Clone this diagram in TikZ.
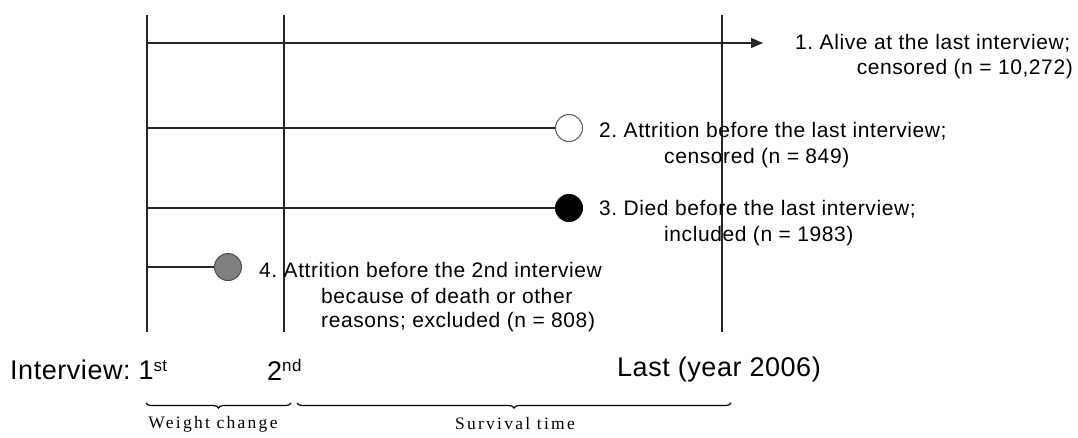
\documentclass[tikz,border=0pt]{standalone}
\usepackage{fontspec}
\setmainfont[LetterSpace=2.8]{Liberation Sans}
\newfontfamily\bigf[LetterSpace=2]{Liberation Sans}
\newfontfamily\serifw[LetterSpace=13]{Liberation Serif}
\usetikzlibrary{decorations.pathreplacing,arrows.meta}
\tikzset{
  vline/.style={line width=1.2pt,black!85},
  hline/.style={line width=1.2pt,black!85},
  lbl/.style={inner sep=0pt,anchor=west,font=\fontsize{21}{21}\selectfont},
  big/.style={inner sep=0pt,anchor=west,font=\bigf\fontsize{27}{27}\selectfont},
  small/.style={inner sep=0pt,font=\serifw\fontsize{17.5}{17.5}\selectfont},
  dot/.style={circle,minimum size=27pt,inner sep=0pt,line width=1pt},
  brc/.style={decorate,decoration={brace,mirror,amplitude=5pt},line width=1.2pt,black}
}
\newcommand{\sups}[1]{\raisebox{0.6ex}{\fontsize{17}{17}\selectfont #1}}
\begin{document}
\frenchspacing
\begin{tikzpicture}[x=1pt,y=-1pt]
\useasboundingbox (0,0) rectangle (1078,437);
% vertical timeline marks
\coordinate (v1t) at (147,15); \coordinate (v1b) at (147,332);
\coordinate (v2t) at (284,15); \coordinate (v2b) at (284,332);
\coordinate (v3t) at (722,15); \coordinate (v3b) at (722,332);
\draw[vline] (v1t) -- (v1b);
\draw[vline] (v2t) -- (v2b);
\draw[vline] (v3t) -- (v3b);
% row 1
\coordinate (s1) at (147,43); \coordinate (e1) at (763,43);
\draw[hline,-{Triangle[length=12pt,width=10pt]}] (s1) -- (e1);
\node[lbl] (t1a) at (795,43) {1. Alive at the last interview;};
\node[lbl,anchor=east] (t1b) at (1073,69) {censored (n = 10,272)};
% row 2
\node[dot,draw=black!65,fill=white] (c2) at (569,128) {};
\coordinate (s2) at (147,128);
\draw[hline] (s2) -- (c2);
\node[lbl] (t2a) at (599,131) {2. Attrition before the last interview;};
\node[lbl] (t2b) at (664,158) {censored (n = 849)};
% row 3
\node[dot,draw=black,fill=black] (c3) at (569,208) {};
\coordinate (s3) at (147,208);
\draw[hline] (s3) -- (c3);
\node[lbl] (t3a) at (599,209) {3. Died before the last interview;};
\node[lbl] (t3b) at (664,236) {included (n = 1983)};
% row 4
\node[dot,draw=black!70,fill=black!50] (c4) at (228,267) {};
\coordinate (s4) at (147,267);
\draw[hline] (s4) -- (c4);
\node[lbl] (t4a) at (259,270) {4. Attrition before the 2nd interview};
\node[lbl] (t4b) at (321,296) {because of death or other};
\node[lbl] (t4c) at (321,322) {reasons; excluded (n = 808)};
% interview labels
\node[big] (i1) at (10,370) {Interview: 1\sups{st}};
\node[big] (i2) at (267,370) {2\sups{nd}};
\node[big] (i3) at (617,370) {Last (year 2006)};
% braces
\coordinate (b1s) at (146,403); \coordinate (b1e) at (291,403);
\coordinate (b2s) at (297,403); \coordinate (b2e) at (731,403);
\draw[brc] (b1s) -- (b1e);
\draw[brc] (b2s) -- (b2e);
\node[small] (w) at (213,424) {Weight change};
\node[small] (st) at (515,424) {Survival time};
\end{tikzpicture}
\end{document}
